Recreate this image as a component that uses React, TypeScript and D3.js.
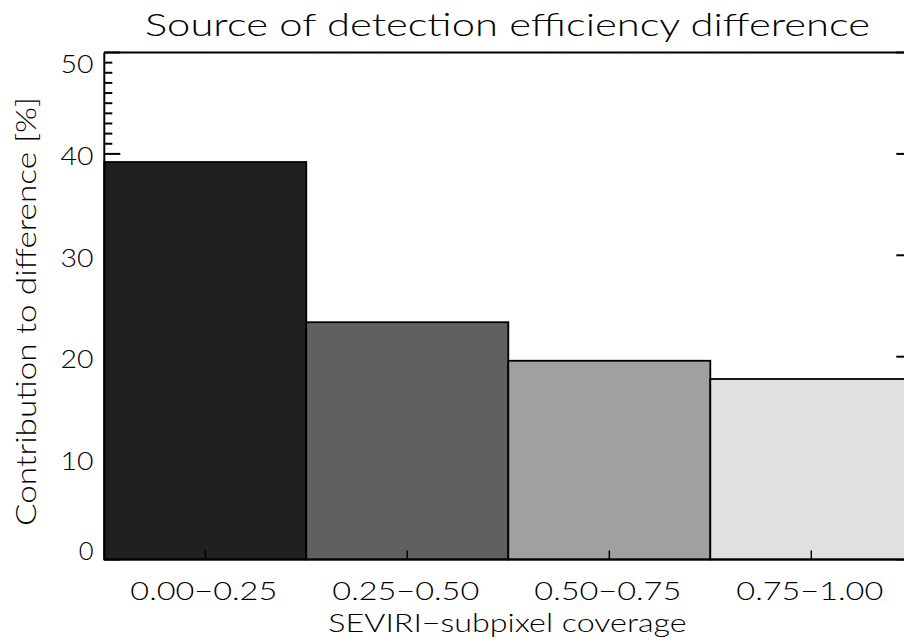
import React, { useEffect } from 'react';
import * as d3 from 'd3';

const categories = ['0.00−0.25', '0.25−0.50', '0.50−0.75', '0.75−1.00'];
const contributions = [39.2, 23.4, 19.6, 17.8];
const barFills = ['#202020', '#606060', '#a0a0a0', '#e0e0e0'];
const yTickValues = [0, 10, 20, 30, 40, 50];
const yMinorStep = 1;
const titleText = 'Source of detection efficiency difference';
const xTitleText = 'SEVIRI−subpixel coverage';
const yTitleText = 'Contribution to difference [%]';

const W = 904;
const H = 643;
const left = 104.3;
const right = 912.3;
const top = 52.5;
const bottom = 559.5;
const FONT = "Lato, 'Open Sans', 'DejaVu Sans', sans-serif";

export default function App() {
  useEffect(() => {
    document.body.style.margin = '0';
  }, []);

  const x = d3.scaleBand<string>().domain(categories).range([left, right]).padding(0);
  const y = d3.scaleLinear().domain([0, 50]).range([bottom, top]);
  const minor = d3.range(0, 50 + yMinorStep, yMinorStep).filter((v) => !yTickValues.includes(v));
  const lastIdx = yTickValues.length - 1;

  return (
    <svg width={W} height={H} style={{ position: 'absolute', left: 0, top: 0, background: '#fff' }}>
      <rect x={0} y={0} width={W} height={H} fill="#fff" />
      {/* y ticks (under bars) */}
      <g stroke="#000" strokeWidth={2}>
        {yTickValues.map((v) => (
          <g key={'M' + v}>
            <line x1={left} x2={left + 16} y1={y(v)} y2={y(v)} />
            <line x1={right} x2={right - 16} y1={y(v)} y2={y(v)} />
          </g>
        ))}
        {minor.map((v) => (
          <g key={'m' + v}>
            <line x1={left} x2={left + 8} y1={y(v)} y2={y(v)} />
            <line x1={right} x2={right - 8} y1={y(v)} y2={y(v)} />
          </g>
        ))}
      </g>
      {/* bars */}
      <g stroke="#000" strokeWidth={1.8}>
        {categories.map((c, i) => (
          <rect
            key={c}
            x={x(c)!}
            y={y(contributions[i])}
            width={x.bandwidth()}
            height={y(0) - y(contributions[i])}
            fill={barFills[i]}
          />
        ))}
      </g>
      {/* x ticks */}
      <g stroke="#000" strokeWidth={1.5}>
        {categories.map((c) => {
          const cx = x(c)! + x.bandwidth() / 2;
          return <line key={c} x1={cx} x2={cx} y1={bottom} y2={bottom - 9} />;
        })}
      </g>
      {/* axis frame */}
      <g stroke="#000" strokeWidth={2} fill="none">
        <line x1={left} x2={left} y1={top} y2={bottom} />
        <line x1={left} x2={right} y1={bottom} y2={bottom} />
        <line x1={left} x2={right} y1={top} y2={top} />
        <line x1={right} x2={right} y1={top} y2={bottom} />
      </g>
      {/* y tick labels */}
      <g fontFamily={FONT} fontWeight={300} fontSize={25.5} fill="#000" textAnchor="end">
        {yTickValues.map((v, i) => {
          const dy = i === 0 ? 0.5 : i === lastIdx ? 20 : 11.5;
          const label = String(v);
          return (
            <text
              key={v}
              x={93.5}
              y={y(v) + dy}
              {...(label.length > 1 ? { textLength: 33, lengthAdjust: 'spacingAndGlyphs' } : {})}
            >
              {label}
            </text>
          );
        })}
      </g>
      {/* x tick labels */}
      <g fontFamily={FONT} fontWeight={300} fontSize={25.5} fill="#000" textAnchor="middle">
        {categories.map((c) => {
          const cx = x(c)! + x.bandwidth() / 2 - 1.5;
          return (
            <text key={c} x={cx} y={600} textLength={147} lengthAdjust="spacingAndGlyphs">
              {c}
            </text>
          );
        })}
      </g>
      {/* titles */}
      <text
        x={145}
        y={36}
        fontFamily={FONT}
        fontWeight={300}
        fontSize={32}
        textLength={725}
        lengthAdjust="spacingAndGlyphs"
        fill="#000"
      >
        {titleText}
      </text>
      <text
        x={328.3}
        y={631.5}
        fontFamily={FONT}
        fontWeight={300}
        fontSize={25.5}
        textLength={358.4}
        lengthAdjust="spacingAndGlyphs"
        fill="#000"
      >
        {xTitleText}
      </text>
      <text
        transform={`translate(36,311.5) rotate(-90)`}
        textAnchor="middle"
        fontFamily={FONT}
        fontWeight={300}
        fontSize={26.5}
        textLength={429}
        lengthAdjust="spacingAndGlyphs"
        fill="#000"
      >
        {yTitleText}
      </text>
    </svg>
  );
}
